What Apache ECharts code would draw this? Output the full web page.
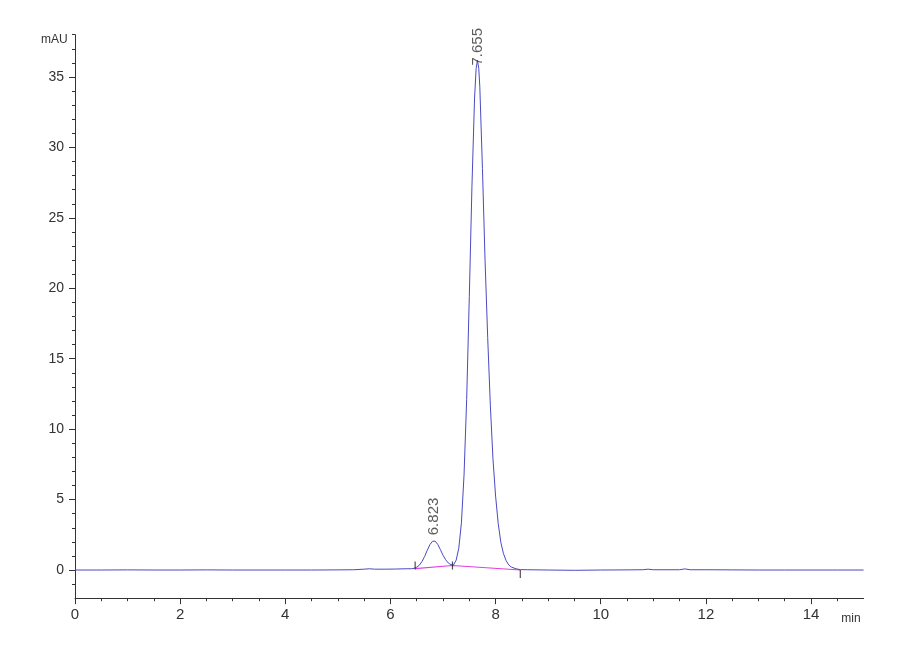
<!DOCTYPE html>
<html>
<head>
<meta charset="utf-8">
<script src="https://cdn.jsdelivr.net/npm/echarts@6/dist/echarts.min.js"></script>
<style>
html,body{margin:0;padding:0;background:#fff;}
#chart{width:900px;height:660px;}
</style>
</head>
<body>
<div id="chart"></div>
<script>
// ---- data ----
var traceTime = [0,0.5,1,1.5,2,2.5,3,3.5,4,4.5,5,5.3,5.5,5.6,5.7,5.9,6.1,6.3,6.4,6.45,6.5,6.55,6.6,6.65,6.7,6.75,6.8,6.823,6.85,6.9,6.95,7.0,7.05,7.1,7.15,7.18,7.2,7.25,7.3,7.35,7.4,7.45,7.5,7.55,7.6,7.63,7.655,7.68,7.7,7.75,7.8,7.85,7.9,7.95,8.0,8.05,8.1,8.15,8.2,8.25,8.3,8.35,8.4,8.47,8.6,9.0,9.5,10,10.5,10.8,10.9,11.0,11.5,11.6,11.7,12,12.5,13,13.5,14,14.5,15];
var traceValue = [0,0,0.01,0,0,0.01,0,0,0,0,0.01,0.02,0.06,0.09,0.06,0.06,0.07,0.09,0.09,0.12,0.2,0.34,0.6,0.96,1.4,1.8,2.04,2.08,2.05,1.82,1.45,1.05,0.73,0.50,0.38,0.33,0.36,0.70,1.55,3.35,6.75,12.1,19.4,27.2,33.5,35.6,36.2,35.6,34.3,28.5,21.95,16.5,11.7,7.9,5.25,3.3,1.96,1.16,0.67,0.36,0.21,0.14,0.08,0.03,0.02,0,-0.02,0,0.01,0.02,0.06,0.02,0.02,0.08,0.02,0.02,0.01,0,0,0,0,0];
var baselineTime = [6.47,7.18,8.47];
var baselineValue = [0.1,0.32,0.0];
var peakTimes = [6.823,7.655];
var peakHeights = [2.08,36.2];
var peakLabels = ['6.823','7.655'];
var xTicks = [0,2,4,6,8,10,12,14];
var xMinorTicks = [0.5,1,1.5,2.5,3,3.5,4.5,5,5.5,6.5,7,7.5,8.5,9,9.5,10.5,11,11.5,12.5,13,13.5,14.5];
var yTicks = [0,5,10,15,20,25,30,35];
var yMinorTicks = [-1,1,2,3,4,6,7,8,9,11,12,13,14,16,17,18,19,21,22,23,24,26,27,28,29,31,32,33,34,36,37,38];
var xName = 'min';
var yName = 'mAU';

// ---- chart ----
function zip(a,b){ return a.map(function(v,i){ return [v,b[i]]; }); }
var font = '"Liberation Sans Narrow","Liberation Sans",Arial,sans-serif';
var axisColor = '#333';
var labelDist = [5,-6];
var tickOffsets = [[0,-3],[0,0],[0,4]];

var chart = echarts.init(document.getElementById('chart'), null, {renderer:'canvas'});
var option = {
  animation: false,
  backgroundColor: '#fff',
  grid: {left: 75, right: 36.4, top: 34.7, bottom: 61.8, containLabel: false, outerBoundsMode: 'none'},
  xAxis: [{
    type: 'value', min: 0, max: 15,
    name: xName, nameLocation: 'end', nameGap: -3,
    nameTextStyle: {fontFamily: font, fontSize: 12, color: axisColor, align: 'right', verticalAlign: 'top', padding: [14,0,0,0]},
    axisLine: {show: true, onZero: false, lineStyle: {color: axisColor, width: 1}},
    axisTick: {show: true, customValues: xMinorTicks, length: 3, lineStyle: {color: axisColor}},
    axisLabel: {show: true, customValues: xTicks, margin: 9, fontFamily: font, fontSize: 15, color: axisColor},
    splitLine: {show: false}
  },{
    type: 'value', min: 0, max: 15, position: 'bottom',
    axisLine: {show: false, onZero: false},
    axisTick: {show: true, customValues: xTicks, length: 6, lineStyle: {color: axisColor}},
    axisLabel: {show: false},
    splitLine: {show: false}
  }],
  yAxis: [{
    type: 'value', min: -2, max: 38,
    axisLine: {show: true, onZero: false, lineStyle: {color: axisColor, width: 1}},
    axisTick: {show: true, customValues: yMinorTicks, length: 3, lineStyle: {color: axisColor}},
    axisLabel: {show: true, customValues: yTicks, margin: 11, fontFamily: font, fontSize: 14, color: axisColor},
    splitLine: {show: false}
  },{
    type: 'value', min: -2, max: 38, position: 'left',
    axisLine: {show: false, onZero: false},
    axisTick: {show: true, customValues: yTicks, length: 6, lineStyle: {color: axisColor}},
    axisLabel: {show: false},
    splitLine: {show: false}
  }],
  graphic: [{
    type: 'text', left: 41, top: 34,
    style: {text: yName, fontFamily: font, fontSize: 12, fill: axisColor}
  }],
  series: [{
    type: 'line', name: 'trace',
    data: zip(traceTime, traceValue),
    showSymbol: false, symbol: 'none',
    lineStyle: {color: '#4a4ac4', width: 1},
    z: 3
  },{
    type: 'line', name: 'baseline',
    data: zip(baselineTime, baselineValue),
    showSymbol: false, symbol: 'none',
    lineStyle: {color: '#e23ee2', width: 1.2},
    z: 2
  },{
    type: 'scatter', name: 'marks',
    data: baselineTime.map(function(t,i){
      return {value: [t, baselineValue[i]], symbolOffset: tickOffsets[i]};
    }),
    symbol: 'rect', symbolSize: [1.2, 8],
    itemStyle: {color: '#222'},
    z: 4
  },{
    type: 'scatter', name: 'peaks',
    data: peakTimes.map(function(t,i){
      return {value: [t, peakHeights[i]], label: {distance: labelDist[i]}, name: peakLabels[i]};
    }),
    symbol: 'circle', symbolSize: 1,
    itemStyle: {color: 'rgba(0,0,0,0)'},
    label: {
      show: true, position: 'top', rotate: 90, align: 'left', verticalAlign: 'middle',
      formatter: function(p){ return p.name; },
      fontFamily: '"Liberation Sans",Arial,sans-serif', fontSize: 15, color: '#333'
    },
    z: 5
  }]
};
chart.setOption(option);
</script>
</body>
</html>
